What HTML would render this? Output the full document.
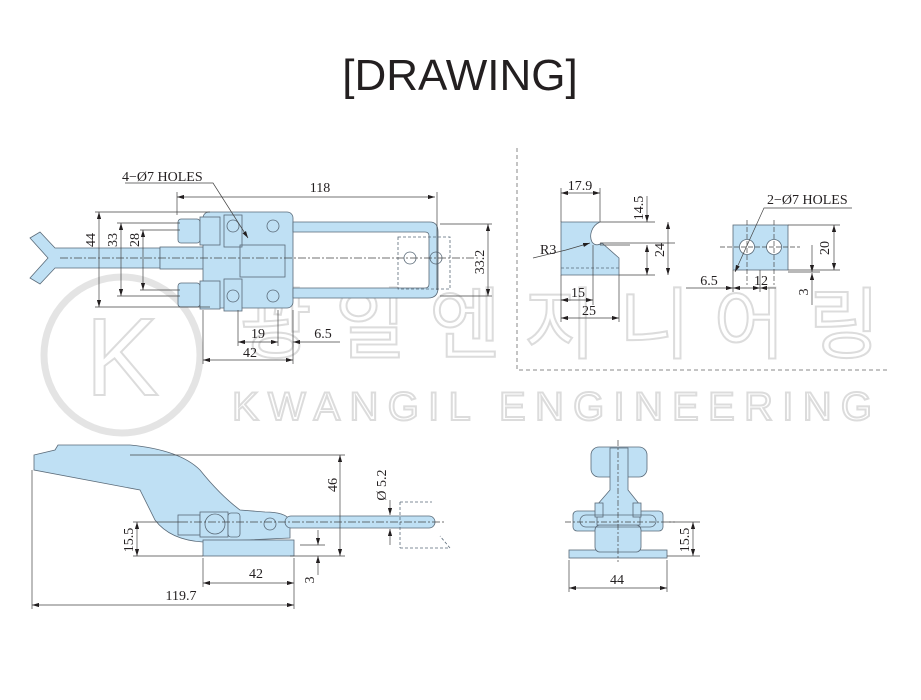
<!DOCTYPE html>
<html><head><meta charset="utf-8"><style>
html,body{margin:0;padding:0;background:#fff;width:921px;height:700px;overflow:hidden}
svg{display:block}
text{font-family:"Liberation Serif",serif;fill:#231f20}
</style></head><body>
<svg width="921" height="700" viewBox="0 0 921 700" xmlns="http://www.w3.org/2000/svg">
<defs>
<marker id="a" viewBox="0 0 10 6" refX="10" refY="3" markerWidth="10" markerHeight="6" orient="auto-start-reverse"><path d="M0,0L10,3L0,6z" fill="#231f20"/></marker>
</defs>
<g fill="#fff" stroke="#d8d8d8" stroke-width="1.5">
<circle cx="122" cy="355" r="78" fill="none" stroke-width="7" stroke="#e4e4e4"/>
<text x="122" y="395" font-size="110" text-anchor="middle" style="font-family:'Liberation Sans',sans-serif;fill:#fff;stroke:#dcdcdc;stroke-width:2">K</text>
<text x="560" y="352" font-size="78" text-anchor="middle" textLength="640" style="font-family:'Liberation Sans','Noto Sans CJK KR',sans-serif;fill:#fff;stroke:#dcdcdc;stroke-width:2">광일엔지니어링</text>
<text x="552" y="420" font-size="40" text-anchor="middle" textLength="640" style="font-family:'Liberation Sans',sans-serif;fill:#fff;stroke:#dcdcdc;stroke-width:2">KWANGIL ENGINEERING</text>
</g>
<text x="460" y="90" font-size="44" text-anchor="middle" style="font-family:'Liberation Sans',sans-serif">[DRAWING]</text>
<path d="M517 148V370H890" fill="none" stroke="#888" stroke-width="1" stroke-dasharray="4,3"/>

<g stroke="#5a6a78" stroke-width="0.8" fill="#bfe0f4">
<path d="M55 248 L40 232 L30 238 L48 258 L30 278 L40 284 L55 268 L160 268 L160 248Z"/>
<rect x="160" y="247" width="45" height="22"/>
<path d="M205 244 L220 244 L240 256 L240 260 L220 272 L205 272Z"/>
<rect x="203" y="212" width="90" height="96" rx="6"/>
<path d="M293 222 H430 Q438 222 438 232 V288 Q438 298 428 298 H293 V288 H425 Q429 288 429 284 V236 Q429 232 425 232 H293Z"/>
<rect x="178" y="219" width="22" height="24" rx="3"/><rect x="200" y="217" width="20" height="28"/>
<rect x="178" y="283" width="22" height="24" rx="3"/><rect x="200" y="281" width="20" height="28"/>
<rect x="224" y="215" width="18" height="32"/><rect x="224" y="279" width="18" height="32"/>
<rect x="240" y="245" width="45" height="32" fill="none"/>
<rect x="398" y="237" width="52" height="52" fill="none" stroke-dasharray="3,2"/>
<circle cx="410" cy="258" r="6" fill="none"/><circle cx="436" cy="258" r="6" fill="none"/>
<circle cx="233" cy="226" r="6" fill="none"/><circle cx="273" cy="226" r="6" fill="none"/>
<circle cx="233" cy="296" r="6" fill="none"/><circle cx="273" cy="296" r="6" fill="none"/>

<path d="M561 222 H600 C591 226 589 236 592 242 C595 246 599 245 602 243 L619 258 V275 H561Z"/>
<path d="M561 268H619" fill="none" stroke-dasharray="3,2"/>
<rect x="733" y="225" width="55" height="45"/>
<circle cx="747" cy="247" r="7.5" fill="#fff"/><circle cx="774" cy="247" r="7.5" fill="#fff"/>

<path d="M34 455 L55 450 L58 445 L130 445 Q180 450 200 470 Q220 495 240 510 L265 512 Q285 512 290 520 L290 538 L203 542 Q170 540 155 520 Q145 500 140 490 L34 470Z"/>
<rect x="203" y="540" width="91" height="16"/>
<rect x="285" y="516" width="150" height="12" rx="6"/>
<rect x="178" y="515" width="22" height="20"/><rect x="200" y="512" width="28" height="25"/>
<circle cx="215" cy="524" r="10"/><rect x="228" y="513" width="12" height="24" rx="3"/>
<circle cx="270" cy="524" r="6"/>
<path d="M400 502 H432 M400 548 H450 L440 536 M400 502 V548" fill="none" stroke-dasharray="3,2"/>

<rect x="569" y="550" width="98" height="8"/>
<rect x="573" y="511" width="90" height="20" rx="4"/>
<rect x="595" y="525" width="46" height="27" rx="5"/>
<rect x="591" y="447" width="56" height="30" rx="8"/>
<path d="M610 448 H628 V490 L640 505 V525 H597 V505 L610 490Z"/>
<rect x="595" y="503" width="8" height="14"/><rect x="633" y="503" width="8" height="14"/>
<rect x="580" y="515" width="76" height="12" rx="6" fill="none"/>
</g>

<g stroke="#444" stroke-width="0.7" fill="none">
<path d="M177 197H435" marker-start="url(#a)" marker-end="url(#a)"/>
<path d="M177 192V215M437 192V290"/>
<path d="M99 212V307" marker-start="url(#a)" marker-end="url(#a)"/>
<path d="M95 212H210M95 307H210"/>
<path d="M121 223V296" marker-start="url(#a)" marker-end="url(#a)"/>
<path d="M117 223H180M117 296H180"/>
<path d="M143 230V290" marker-start="url(#a)" marker-end="url(#a)"/>
<path d="M140 230H180M140 290H180"/>
<path d="M488 224V296" marker-start="url(#a)" marker-end="url(#a)"/>
<path d="M440 224H492M440 296H492"/>
<path d="M238 342H278" marker-start="url(#a)" marker-end="url(#a)"/>
<path d="M238 310V346M278 310V346M293 310V364M203 310V364"/>
<path d="M293 342H340" marker-start="url(#a)"/>
<path d="M203 360H293" marker-start="url(#a)" marker-end="url(#a)"/>
<path d="M125 183H213L248 238" marker-end="url(#a)"/>
<path d="M60 258H480" stroke-dasharray="8,2,2,2"/>
<path d="M561 193H600" marker-start="url(#a)" marker-end="url(#a)"/>
<path d="M561 188V222M600 188V222"/>
<path d="M600 222H655M619 275H655M600 245H630"/>
<path d="M647 196V222" marker-end="url(#a)"/><path d="M647 245V275" marker-start="url(#a)" marker-end="url(#a)"/>
<path d="M668 222V275" marker-start="url(#a)" marker-end="url(#a)"/>
<path d="M600 243H675"/>
<path d="M533 258L566 250L590 243" marker-end="url(#a)"/>
<path d="M561 300H593" marker-start="url(#a)" marker-end="url(#a)"/>
<path d="M561 318H619" marker-start="url(#a)" marker-end="url(#a)"/>
<path d="M561 275V322M593 245V305M619 275V322"/>
<path d="M788 225H840M788 270H840"/>
<path d="M834 225V270" marker-start="url(#a)" marker-end="url(#a)"/>
<path d="M812 245V272" marker-end="url(#a)"/><path d="M812 305V273" marker-end="url(#a)"/>
<path d="M788 272H820"/>
<path d="M686 288H733" marker-end="url(#a)"/>
<path d="M733 288H760" marker-start="url(#a)" marker-end="url(#a)"/>
<path d="M760 288H776" marker-start="url(#a)"/>
<path d="M733 270V292M760 270V292"/>
<path d="M852 208H764L735 272" marker-end="url(#a)"/>
<path d="M720 247H800M747 220V285M774 220V285" stroke-dasharray="5,2"/>
<path d="M130 455H345M290 556H345"/>
<path d="M340 455V556" marker-start="url(#a)" marker-end="url(#a)"/>
<path d="M390 500V515" marker-end="url(#a)"/><path d="M390 545V529" marker-end="url(#a)"/>
<path d="M137 522V556" marker-start="url(#a)" marker-end="url(#a)"/>
<path d="M133 522H180M133 556H203"/>
<path d="M318 530V545" marker-end="url(#a)"/><path d="M318 575V556" marker-end="url(#a)"/>
<path d="M300 545H325"/>
<path d="M203 583H294" marker-start="url(#a)" marker-end="url(#a)"/>
<path d="M32 605H294" marker-start="url(#a)" marker-end="url(#a)"/>
<path d="M203 558V587M294 558V609M32 470V609"/>
<path d="M180 522H445" stroke-dasharray="8,2,2,2"/>
<path d="M569 560V592M667 560V592"/>
<path d="M569 588H667" marker-start="url(#a)" marker-end="url(#a)"/>
<path d="M667 522H700M667 556H700"/>
<path d="M693 522V556" marker-start="url(#a)" marker-end="url(#a)"/>
<path d="M618 440V562M565 522H675" stroke-dasharray="6,2,2,2"/>
</g>

<g font-size="14">
<text x="122" y="181">4−Ø7 HOLES</text>
<text x="320" y="192" text-anchor="middle">118</text>
<text x="258" y="338" text-anchor="middle">19</text>
<text x="323" y="338" text-anchor="middle">6.5</text>
<text x="250" y="357" text-anchor="middle">42</text>
<text transform="translate(95,240) rotate(-90)" text-anchor="middle">44</text>
<text transform="translate(117,240) rotate(-90)" text-anchor="middle">33</text>
<text transform="translate(139,240) rotate(-90)" text-anchor="middle">28</text>
<text transform="translate(484,262) rotate(-90)" text-anchor="middle">33.2</text>
<text x="580" y="190" text-anchor="middle">17.9</text>
<text transform="translate(643,208) rotate(-90)" text-anchor="middle">14.5</text>
<text transform="translate(664,250) rotate(-90)" text-anchor="middle">24</text>
<text x="540" y="254">R3</text>
<text x="578" y="297" text-anchor="middle">15</text>
<text x="589" y="315" text-anchor="middle">25</text>
<text x="767" y="204">2−Ø7 HOLES</text>
<text x="709" y="285" text-anchor="middle">6.5</text>
<text x="761" y="285" text-anchor="middle">12</text>
<text transform="translate(829,248) rotate(-90)" text-anchor="middle">20</text>
<text transform="translate(808,292) rotate(-90)" text-anchor="middle">3</text>
<text transform="translate(337,485) rotate(-90)" text-anchor="middle">46</text>
<text transform="translate(386,485) rotate(-90)" text-anchor="middle">Ø 5.2</text>
<text transform="translate(133,540) rotate(-90)" text-anchor="middle">15.5</text>
<text transform="translate(314,580) rotate(-90)" text-anchor="middle">3</text>
<text x="256" y="578" text-anchor="middle">42</text>
<text x="181" y="600" text-anchor="middle">119.7</text>
<text x="617" y="584" text-anchor="middle">44</text>
<text transform="translate(689,540) rotate(-90)" text-anchor="middle">15.5</text>
</g>
</svg>
</body></html>
